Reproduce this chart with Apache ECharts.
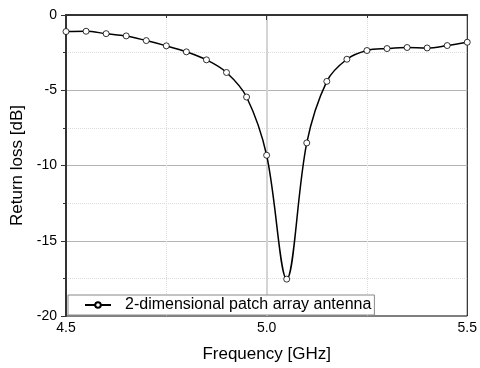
<!DOCTYPE html>
<html>
<head>
<meta charset="utf-8">
<script src="https://cdn.jsdelivr.net/npm/echarts@6/dist/echarts.min.js"></script>
<style>
html, body { margin: 0; padding: 0; background: #fff; }
#chart { width: 480px; height: 368px; }
</style>
</head>
<body>
<div id="chart"></div>
<script>
// frequency points (GHz) and measured return loss (dB)
var freq = [4.5, 4.55, 4.6, 4.65, 4.7, 4.75, 4.8, 4.85, 4.9, 4.95, 5.0,
            5.05, 5.1, 5.15, 5.2, 5.25, 5.3, 5.35, 5.4, 5.45, 5.5];
var returnLoss = [-1.10, -1.08, -1.24, -1.39, -1.70, -2.05, -2.45, -2.98, -3.82, -5.45, -9.32,
                  -17.55, -8.50, -4.41, -2.94, -2.36, -2.23, -2.16, -2.19, -2.03, -1.81];
var seriesName = '2-dimensional patch array antenna';

var points = [];
freq.forEach(function (f, i) {
    points.push([f, returnLoss[i]]);
});

var myChart = echarts.init(document.getElementById('chart'), null, { renderer: 'canvas' });
var font = 'Liberation Sans, Arial, sans-serif';
var option = {
    animation: false,
    textStyle: { fontFamily: font },
    grid: {
        left: 66, right: 10, top: 15, bottom: 51,
        show: true,
        borderColor: '#000',
        borderWidth: 1
    },
    legend: {
        data: [seriesName],
        left: 68,
        top: 295,
        padding: [2, 3, 2, 16],
        itemWidth: 26,
        itemHeight: 7,
        backgroundColor: '#fff',
        borderColor: '#888',
        borderWidth: 1,
        borderRadius: 0,
        textStyle: { fontSize: 16, color: '#000', fontFamily: font, padding: [0, 0, 0, 9] }
    },
    xAxis: {
        type: 'value',
        min: 4.5,
        max: 5.5,
        interval: 0.5,
        name: 'Frequency [GHz]',
        nameLocation: 'middle',
        nameGap: 30,
        nameTextStyle: { fontSize: 17, color: '#000', fontFamily: font },
        axisLine: { lineStyle: { color: '#333', width: 2 } },
        axisTick: { show: true, inside: false, length: 5, lineStyle: { color: '#333' } },
        minorTick: { show: true, splitNumber: 2, length: 3, lineStyle: { color: '#333' } },
        axisLabel: {
            margin: 5,
            fontSize: 14,
            color: '#000',
            fontFamily: font,
            formatter: function (v) { return v.toFixed(1); }
        },
        splitLine: { show: true, showMinLine: false, showMaxLine: false, lineStyle: { color: '#d4d4d4', width: 2 } },
        minorSplitLine: { show: true, lineStyle: { color: '#dcdcdc', type: 'dotted', width: 1 } }
    },
    yAxis: {
        type: 'value',
        min: -20,
        max: 0,
        interval: 5,
        name: 'Return loss [dB]',
        nameLocation: 'middle',
        nameGap: 40,
        nameTextStyle: { fontSize: 17, color: '#000', fontFamily: font },
        axisLine: { show: true, lineStyle: { color: '#333', width: 2 } },
        axisTick: { show: true, inside: false, length: 5, lineStyle: { color: '#333' } },
        minorTick: { show: true, splitNumber: 2, length: 3, lineStyle: { color: '#333' } },
        axisLabel: { margin: 9, fontSize: 14, color: '#000', fontFamily: font },
        splitLine: { show: true, showMinLine: false, showMaxLine: false, lineStyle: { color: '#b4b4b4', width: 1 } },
        minorSplitLine: { show: true, lineStyle: { color: '#dcdcdc', type: 'dotted', width: 1 } }
    },
    series: [
        {
            name: seriesName,
            type: 'line',
            data: points,
            smooth: 0.35,
            symbol: 'circle',
            symbolSize: 6,
            lineStyle: { color: '#000', width: 1.5 },
            itemStyle: { color: '#fff', borderColor: '#000', borderWidth: 0.8 },
            z: 5
        }
    ]
};
myChart.setOption(option);
</script>
</body>
</html>
